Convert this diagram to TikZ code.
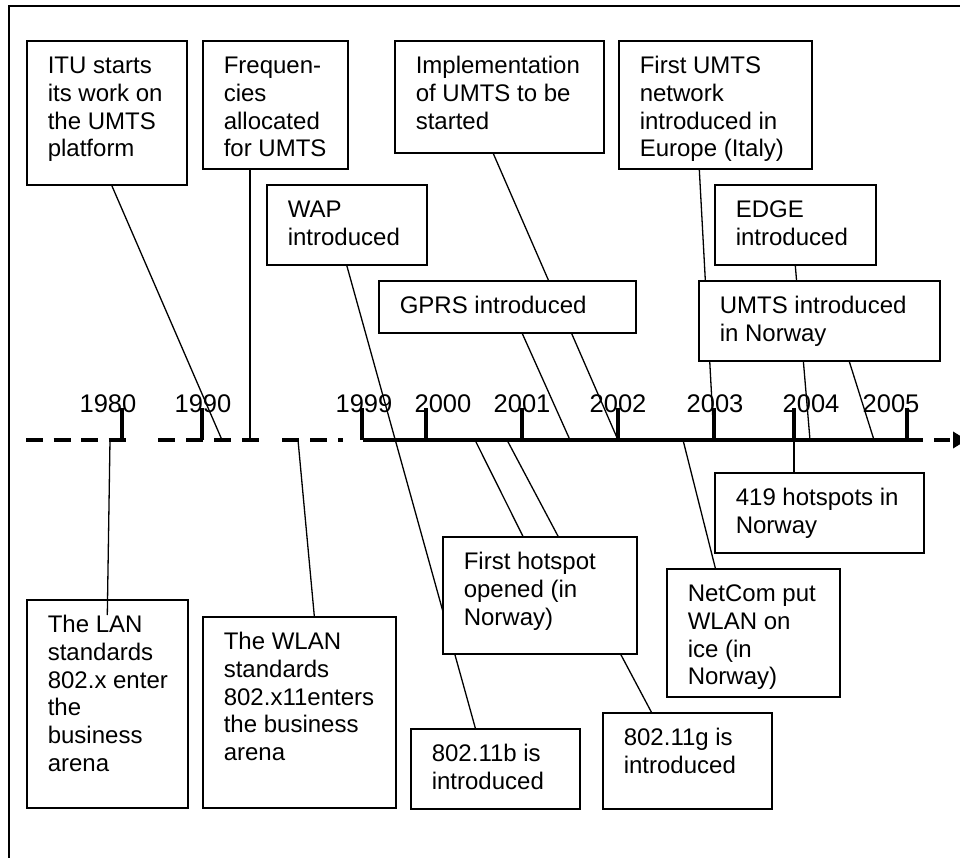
\documentclass[tikz,border=0pt]{standalone}
\usepackage{fontspec}
\setmainfont{Liberation Sans}
\usetikzlibrary{arrows.meta,backgrounds}

\newcommand{\evfont}{\fontsize{24}{27.7}\selectfont}
\newcommand{\yrfont}{\fontsize{25.5}{28}\selectfont}
% text of an event box: width, height, lines
\newcommand{\evtext}[3]{\begin{minipage}[t][#2pt][t]{#1pt}\raggedright
  \rule{0pt}{33pt}#3\end{minipage}}

\tikzset{
  evbox/.style = {draw, line width=1.6pt, fill=white, anchor=north west,
    inner xsep=21pt, inner ysep=0pt, font=\evfont},% event box
  yearlbl/.style = {font=\yrfont, anchor=base, inner sep=0pt},
  yeartick/.style = {line width=3.5pt},
  link/.style = {line width=1.3pt},% box to time line
  tlsolid/.style = {line width=4pt},
  tldash/.style = {line width=4pt, dash pattern=on 17pt off 10.5pt}
}

\begin{document}
\begin{tikzpicture}[x=1pt, y=-1pt]
\useasboundingbox (0,0) rectangle (960,858);
\draw[line width=1.5pt] (9,875) -- (9,6) -- (975,6);

% boxes above the time line
\node[evbox] (itu) at (26,40) {\evtext{118}{144}{ITU starts\\its work on\\the UMTS\\platform}};
\node[evbox] (freq) at (202,40) {\evtext{103}{128}{Frequen-\\cies\\allocated\\for UMTS}};
\node[evbox] (impl) at (394,40) {\evtext{167}{112}{Implementation\\of UMTS to be\\started}};
\node[evbox] (fumts) at (618,40) {\evtext{151}{128}{First UMTS\\network\\introduced in\\Europe (Italy)}};
\node[evbox] (wap) at (266,184) {\evtext{118}{80}{WAP\\introduced}};
\node[evbox] (edg) at (714,184) {\evtext{119}{80}{EDGE\\introduced}};
\node[evbox] (gprs) at (378,280) {\evtext{215}{52}{GPRS introduced}};
\node[evbox] (unor) at (698,280) {\evtext{199}{80}{UMTS introduced\\in Norway}};

% boxes below the time line
\node[evbox] (h419) at (714,472) {\evtext{167}{80}{419 hotspots in\\Norway}};
\node[evbox] (hot) at (442,536) {\evtext{152}{117}{First hotspot\\opened (in\\Norway)}};
\node[evbox] (net) at (666,568) {\evtext{131}{128}{NetCom put\\WLAN on\\ice (in\\Norway)}};
\node[evbox] (lan) at (26,599) {\evtext{119}{208}{The LAN\\standards\\\mbox{802.x enter}\\the\\business\\arena}};
\node[evbox] (wlan) at (202,616) {\evtext{151}{191}{The WLAN\\standards\\\mbox{802.x11enters}\\the business\\arena}};
\node[evbox] (b11) at (410,728) {\evtext{127}{80}{802.11b is\\introduced}};
\node[evbox] (g11) at (602,712) {\evtext{127}{96}{802.11g is\\introduced}};

% points on the time line
\coordinate (tA0) at (26,440);  \coordinate (tA1) at (126,440);
\coordinate (tB0) at (158,440); \coordinate (tB1) at (262,440);
\coordinate (tC0) at (282,440); \coordinate (tC1) at (343,440);
\coordinate (tS0) at (363,440); \coordinate (tS1) at (907,440);
\coordinate (tEnd) at (967,440);
\coordinate (cLAN) at (110,440);  \coordinate (cITU) at (222,440);
\coordinate (cFreq) at (250,440); \coordinate (cWLAN) at (298,440);
\coordinate (cHot) at (475,440);  \coordinate (cG) at (507,440);
\coordinate (cGPRS) at (570,440); \coordinate (cImpl) at (618,440);
\coordinate (cNet) at (683,440);  \coordinate (cFumts) at (714,440);
\coordinate (c419) at (794,440);  \coordinate (cEdge) at (810,440);
\coordinate (cUnor) at (874,440);

\begin{scope}[on background layer]
\draw[link] ([xshift=5pt]itu.south) -- (cITU);
\draw[link] (cFreq |- freq.south) -- (cFreq);
\draw[link] (wap.south) -- ([xshift=-20pt]b11.north);
\draw[link] ([xshift=-6pt]impl.south) -- (cImpl);
\draw[link] ([xshift=15pt]gprs.south) -- (cGPRS);
\draw[link] ([xshift=-16pt]fumts.south) -- (cFumts);
\draw[link] (edg.south) -- (cEdge);
\draw[link] ([xshift=30pt]unor.south) -- (cUnor);
\draw[link] (cWLAN) -- ([xshift=15pt]wlan.north);
\draw[link] (cHot) -- ([xshift=-17pt]hot.north);
\draw[link] (cG) -- ([xshift=-36pt]g11.north);
\draw[link] (cNet) -- ([xshift=-38pt]net.north);
\draw[link] (c419) -- (c419 |- h419.north);
\end{scope}
\draw[link] (cLAN) -- ([yshift=-16pt]lan.north);

% years and ticks
\foreach \yr/\tx/\lx in {1980/122/108, 1990/202/203, 1999/362/364,
    2000/426/443, 2001/522/522, 2002/618/618, 2003/714/715,
    2004/794/811, 2005/907/891} {
  \node[yearlbl] (y\yr) at (\lx,412) {\yr};
  \draw[yeartick] (\tx,408) -- (\tx,440);
}

% time line
\draw[tldash] (tA0) -- (tA1);
\draw[tldash, dash pattern=on 17pt off 11pt] (tB0) -- (tB1);
\draw[tldash, dash pattern=on 17pt off 11pt] (tC0) -- (tC1);
\draw[tlsolid] (tS0) -- (tS1);
\draw[tldash, dash pattern=on 16pt off 11pt,
  -{Triangle[length=14pt,width=16pt]}] (tS1) -- (tEnd);
\end{tikzpicture}
\end{document}
